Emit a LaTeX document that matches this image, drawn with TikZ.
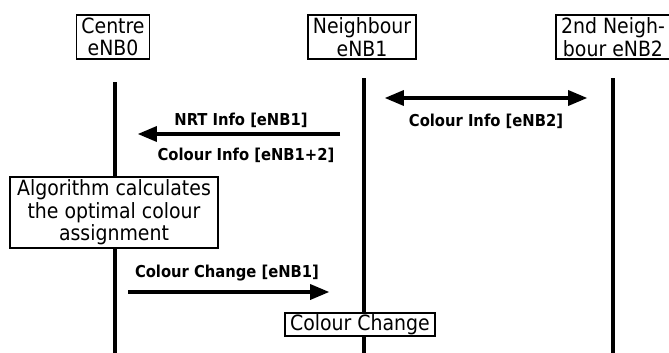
\documentclass[tikz,border=0pt]{standalone}
\usepackage{fontspec}
\setmainfont{DejaVu Sans Condensed}
\usetikzlibrary{arrows}

\begin{document}
\begin{tikzpicture}[x=1pt,y=-1pt]
\tikzstyle{entity} = [draw,line width=1.8pt,fill=white,align=center,font=\fontsize{21}{22.5}\selectfont,inner xsep=5pt,inner ysep=2.5pt]
\tikzstyle{lifeline} = [line width=3.5pt]
\tikzstyle{msg} = [line width=3.5pt,-triangle 45]
\tikzstyle{msg2} = [line width=3.5pt,triangle 45-triangle 45]
\tikzstyle{mlabel} = [font=\bfseries\fontsize{16.4}{18}\selectfont]

\useasboundingbox (0,0) rectangle (669,353);

% the three eNBs
\node[entity] (enb0) at (113,37) {Centre\\eNB0};
\node[entity] (enb1) at (362,37) {Neighbour\\eNB1};
\node[entity] (enb2) at (613,37) {2nd Neigh-\\bour eNB2};

\coordinate (t0) at (115,82);
\coordinate (b0) at (115,353);
\coordinate (t1) at (364,78);
\coordinate (b1) at (364,353);
\coordinate (t2) at (613,78);
\coordinate (b2) at (613,353);

\draw[lifeline] (t0) -- (b0);
\draw[lifeline] (t1) -- (b1);
\draw[lifeline] (t2) -- (b2);

% messages
\coordinate (m1a) at (385,98);
\coordinate (m1b) at (587,98);
\draw[msg2] (m1a) -- (m1b);
\node[mlabel] (info2) at (486,121) {Colour Info [eNB2]};

\coordinate (m2a) at (340,134);
\coordinate (m2b) at (138,134);
\draw[msg] (m2a) -- (m2b);
\node[mlabel] (nrt) at (241,120) {NRT Info [eNB1]};
\node[mlabel] (info12) at (246,155) {Colour Info [eNB1+2]};

\node[entity,inner xsep=7pt] (algo) at (114,212.5) {Algorithm calculates\\the optimal colour\\assignment};

\coordinate (m3a) at (128,292);
\coordinate (m3b) at (329,292);
\draw[msg] (m3a) -- (m3b);
\node[mlabel] (change1) at (227,273) {Colour Change [eNB1]};

\node[entity,inner ysep=1pt] (change) at (360,324.5) {Colour Change};
\end{tikzpicture}
\end{document}
